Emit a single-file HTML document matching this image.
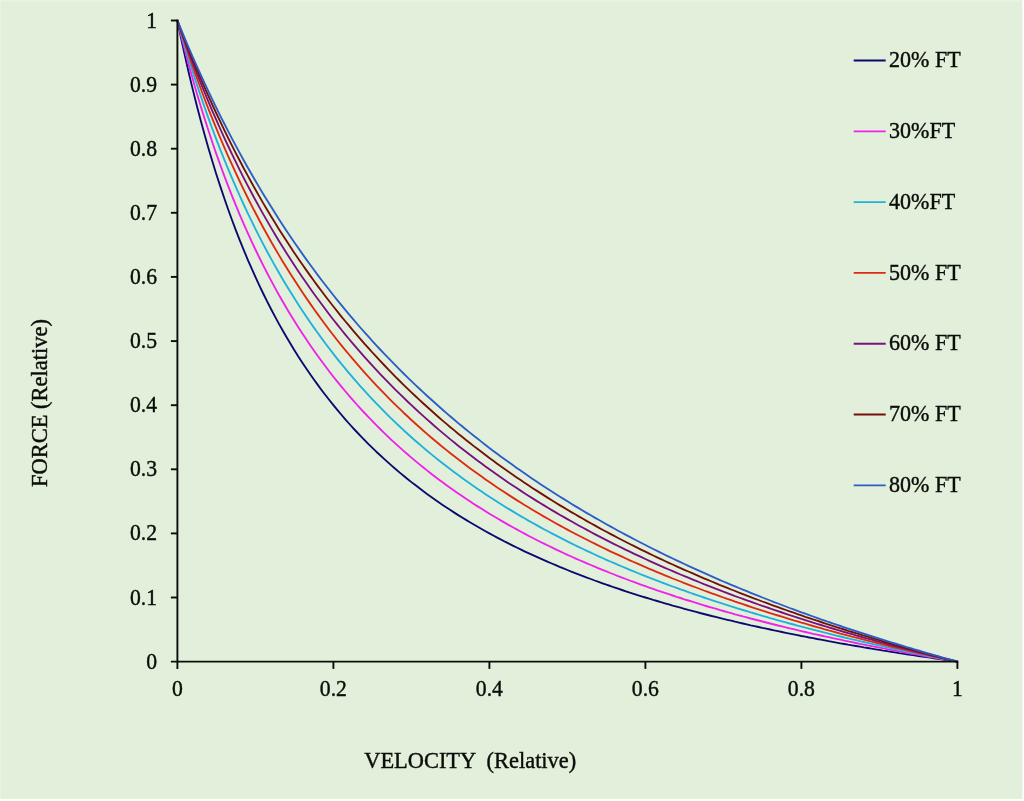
<!DOCTYPE html>
<html><head><meta charset="utf-8"><title>Force-Velocity</title>
<style>
html,body{margin:0;padding:0;background:#e2efda;overflow:hidden}
svg{display:block}
text{font-family:"Liberation Serif","Times New Roman",serif;font-size:22.6px;fill:#0a0d09;stroke:#0a0d09;stroke-width:0.4px}
</style></head><body>
<svg width="1024" height="801" viewBox="0 0 1024 801">
<rect x="0" y="0" width="1024" height="801" fill="#e2efda"/>

<rect x="0" y="0" width="1024" height="1.3" fill="#e9f4e1"/>
<rect x="0" y="0" width="0.8" height="801" fill="#e9f4e1"/>
<rect x="1020" y="0" width="2.3" height="801" fill="#e4ecdf"/>
<rect x="1022.3" y="0" width="1.7" height="801" fill="#fcfefa"/>
<rect x="0" y="799" width="1024" height="2" fill="#fcfefa"/>
<polyline points="177.4,20.5 181.3,39.3 185.2,57.1 189.1,74.2 193.0,90.4 196.9,106.0 200.8,120.8 204.7,135.1 208.6,148.7 212.5,161.8 216.4,174.4 220.3,186.4 224.2,198.0 228.1,209.2 232.0,220.0 235.9,230.3 239.8,240.3 243.7,249.9 247.6,259.3 251.5,268.2 255.4,276.9 259.3,285.3 263.2,293.5 267.1,301.4 271.0,309.0 274.9,316.4 278.8,323.6 282.7,330.5 286.6,337.3 290.5,343.8 294.4,350.2 298.3,356.4 302.2,362.4 306.1,368.3 310.0,374.0 313.9,379.5 317.8,384.9 321.7,390.2 325.6,395.3 329.5,400.3 333.4,405.2 337.3,409.9 341.2,414.5 345.1,419.1 349.0,423.5 352.9,427.8 356.8,432.0 360.7,436.1 364.6,440.1 368.5,444.1 372.4,447.9 376.3,451.7 380.2,455.3 384.1,458.9 388.0,462.4 391.9,465.9 395.8,469.3 399.7,472.6 403.6,475.8 407.5,479.0 411.4,482.1 415.3,485.1 419.2,488.1 423.1,491.1 427.0,493.9 430.9,496.7 434.8,499.5 438.7,502.2 442.6,504.9 446.5,507.5 450.4,510.1 454.3,512.6 458.2,515.1 462.1,517.5 466.0,519.9 469.9,522.2 473.8,524.5 477.7,526.8 481.6,529.0 485.5,531.2 489.4,533.4 493.3,535.5 497.2,537.6 501.1,539.6 505.0,541.7 508.9,543.6 512.8,545.6 516.7,547.5 520.6,549.4 524.5,551.3 528.4,553.1 532.3,554.9 536.2,556.7 540.1,558.4 544.0,560.2 547.9,561.9 551.8,563.5 555.7,565.2 559.6,566.8 563.5,568.4 567.4,570.0 571.3,571.6 575.2,573.1 579.1,574.6 583.0,576.1 586.9,577.6 590.8,579.0 594.7,580.5 598.6,581.9 602.5,583.3 606.4,584.7 610.3,586.0 614.2,587.4 618.1,588.7 622.0,590.0 625.9,591.3 629.8,592.6 633.7,593.8 637.6,595.1 641.5,596.3 645.4,597.5 649.3,598.7 653.2,599.9 657.1,601.0 661.0,602.2 664.9,603.3 668.8,604.4 672.7,605.6 676.6,606.6 680.5,607.7 684.4,608.8 688.3,609.9 692.2,610.9 696.1,611.9 700.0,613.0 703.9,614.0 707.8,615.0 711.7,616.0 715.6,616.9 719.5,617.9 723.4,618.9 727.3,619.8 731.2,620.7 735.1,621.7 739.0,622.6 742.9,623.5 746.8,624.4 750.7,625.3 754.6,626.1 758.5,627.0 762.4,627.9 766.3,628.7 770.2,629.5 774.1,630.4 778.0,631.2 781.9,632.0 785.8,632.8 789.7,633.6 793.6,634.4 797.5,635.2 801.4,636.0 805.3,636.7 809.2,637.5 813.1,638.2 817.0,639.0 820.9,639.7 824.8,640.4 828.7,641.2 832.6,641.9 836.5,642.6 840.4,643.3 844.3,644.0 848.2,644.7 852.1,645.3 856.0,646.0 859.9,646.7 863.8,647.4 867.7,648.0 871.6,648.7 875.5,649.3 879.4,649.9 883.3,650.6 887.2,651.2 891.1,651.8 895.0,652.4 898.9,653.1 902.8,653.7 906.7,654.3 910.6,654.9 914.5,655.4 918.4,656.0 922.3,656.6 926.2,657.2 930.1,657.7 934.0,658.3 937.9,658.9 941.8,659.4 945.7,660.0 949.6,660.5 953.5,661.1 957.4,661.6" fill="none" stroke="#0c0870" stroke-width="1.85" stroke-linejoin="round"/>
<polyline points="177.4,20.5 181.3,36.2 185.2,51.3 189.1,65.9 193.0,79.9 196.9,93.4 200.8,106.4 204.7,118.9 208.6,131.0 212.5,142.7 216.4,154.1 220.3,165.0 224.2,175.6 228.1,185.9 232.0,195.8 235.9,205.4 239.8,214.8 243.7,223.8 247.6,232.6 251.5,241.2 255.4,249.5 259.3,257.5 263.2,265.4 267.1,273.0 271.0,280.4 274.9,287.6 278.8,294.7 282.7,301.5 286.6,308.2 290.5,314.7 294.4,321.0 298.3,327.2 302.2,333.2 306.1,339.1 310.0,344.9 313.9,350.5 317.8,356.0 321.7,361.3 325.6,366.5 329.5,371.7 333.4,376.7 337.3,381.6 341.2,386.3 345.1,391.0 349.0,395.6 352.9,400.1 356.8,404.5 360.7,408.8 364.6,413.0 368.5,417.1 372.4,421.2 376.3,425.2 380.2,429.0 384.1,432.9 388.0,436.6 391.9,440.3 395.8,443.9 399.7,447.4 403.6,450.9 407.5,454.3 411.4,457.6 415.3,460.9 419.2,464.1 423.1,467.3 427.0,470.4 430.9,473.5 434.8,476.5 438.7,479.4 442.6,482.3 446.5,485.2 450.4,488.0 454.3,490.7 458.2,493.4 462.1,496.1 466.0,498.7 469.9,501.3 473.8,503.9 477.7,506.4 481.6,508.8 485.5,511.3 489.4,513.7 493.3,516.0 497.2,518.3 501.1,520.6 505.0,522.9 508.9,525.1 512.8,527.3 516.7,529.4 520.6,531.5 524.5,533.6 528.4,535.7 532.3,537.7 536.2,539.7 540.1,541.7 544.0,543.6 547.9,545.5 551.8,547.4 555.7,549.3 559.6,551.1 563.5,553.0 567.4,554.8 571.3,556.5 575.2,558.3 579.1,560.0 583.0,561.7 586.9,563.4 590.8,565.0 594.7,566.7 598.6,568.3 602.5,569.9 606.4,571.4 610.3,573.0 614.2,574.5 618.1,576.1 622.0,577.6 625.9,579.0 629.8,580.5 633.7,581.9 637.6,583.4 641.5,584.8 645.4,586.2 649.3,587.6 653.2,588.9 657.1,590.3 661.0,591.6 664.9,592.9 668.8,594.2 672.7,595.5 676.6,596.8 680.5,598.0 684.4,599.3 688.3,600.5 692.2,601.7 696.1,602.9 700.0,604.1 703.9,605.3 707.8,606.5 711.7,607.6 715.6,608.7 719.5,609.9 723.4,611.0 727.3,612.1 731.2,613.2 735.1,614.3 739.0,615.3 742.9,616.4 746.8,617.4 750.7,618.5 754.6,619.5 758.5,620.5 762.4,621.5 766.3,622.5 770.2,623.5 774.1,624.5 778.0,625.5 781.9,626.4 785.8,627.4 789.7,628.3 793.6,629.2 797.5,630.2 801.4,631.1 805.3,632.0 809.2,632.9 813.1,633.8 817.0,634.6 820.9,635.5 824.8,636.4 828.7,637.2 832.6,638.1 836.5,638.9 840.4,639.7 844.3,640.6 848.2,641.4 852.1,642.2 856.0,643.0 859.9,643.8 863.8,644.6 867.7,645.4 871.6,646.1 875.5,646.9 879.4,647.7 883.3,648.4 887.2,649.2 891.1,649.9 895.0,650.6 898.9,651.4 902.8,652.1 906.7,652.8 910.6,653.5 914.5,654.2 918.4,654.9 922.3,655.6 926.2,656.3 930.1,657.0 934.0,657.7 937.9,658.3 941.8,659.0 945.7,659.7 949.6,660.3 953.5,661.0 957.4,661.6" fill="none" stroke="#ee22ea" stroke-width="1.85" stroke-linejoin="round"/>
<polyline points="177.4,20.5 181.3,34.2 185.2,47.4 189.1,60.2 193.0,72.6 196.9,84.6 200.8,96.3 204.7,107.6 208.6,118.6 212.5,129.2 216.4,139.6 220.3,149.6 224.2,159.4 228.1,168.9 232.0,178.2 235.9,187.2 239.8,196.0 243.7,204.5 247.6,212.8 251.5,220.9 255.4,228.9 259.3,236.6 263.2,244.1 267.1,251.5 271.0,258.6 274.9,265.6 278.8,272.5 282.7,279.2 286.6,285.7 290.5,292.1 294.4,298.3 298.3,304.4 302.2,310.4 306.1,316.2 310.0,322.0 313.9,327.6 317.8,333.0 321.7,338.4 325.6,343.7 329.5,348.8 333.4,353.9 337.3,358.8 341.2,363.7 345.1,368.4 349.0,373.1 352.9,377.7 356.8,382.2 360.7,386.6 364.6,390.9 368.5,395.2 372.4,399.3 376.3,403.4 380.2,407.4 384.1,411.4 388.0,415.3 391.9,419.1 395.8,422.8 399.7,426.5 403.6,430.2 407.5,433.7 411.4,437.2 415.3,440.7 419.2,444.0 423.1,447.4 427.0,450.7 430.9,453.9 434.8,457.1 438.7,460.2 442.6,463.3 446.5,466.3 450.4,469.3 454.3,472.2 458.2,475.1 462.1,477.9 466.0,480.8 469.9,483.5 473.8,486.2 477.7,488.9 481.6,491.6 485.5,494.2 489.4,496.7 493.3,499.3 497.2,501.8 501.1,504.2 505.0,506.7 508.9,509.1 512.8,511.4 516.7,513.8 520.6,516.1 524.5,518.3 528.4,520.6 532.3,522.8 536.2,524.9 540.1,527.1 544.0,529.2 547.9,531.3 551.8,533.4 555.7,535.4 559.6,537.4 563.5,539.4 567.4,541.4 571.3,543.3 575.2,545.3 579.1,547.1 583.0,549.0 586.9,550.9 590.8,552.7 594.7,554.5 598.6,556.3 602.5,558.0 606.4,559.8 610.3,561.5 614.2,563.2 618.1,564.9 622.0,566.5 625.9,568.2 629.8,569.8 633.7,571.4 637.6,573.0 641.5,574.6 645.4,576.1 649.3,577.7 653.2,579.2 657.1,580.7 661.0,582.2 664.9,583.6 668.8,585.1 672.7,586.5 676.6,587.9 680.5,589.3 684.4,590.7 688.3,592.1 692.2,593.5 696.1,594.8 700.0,596.2 703.9,597.5 707.8,598.8 711.7,600.1 715.6,601.4 719.5,602.6 723.4,603.9 727.3,605.1 731.2,606.4 735.1,607.6 739.0,608.8 742.9,610.0 746.8,611.2 750.7,612.4 754.6,613.5 758.5,614.7 762.4,615.8 766.3,616.9 770.2,618.1 774.1,619.2 778.0,620.3 781.9,621.3 785.8,622.4 789.7,623.5 793.6,624.5 797.5,625.6 801.4,626.6 805.3,627.7 809.2,628.7 813.1,629.7 817.0,630.7 820.9,631.7 824.8,632.7 828.7,633.6 832.6,634.6 836.5,635.6 840.4,636.5 844.3,637.5 848.2,638.4 852.1,639.3 856.0,640.2 859.9,641.1 863.8,642.0 867.7,642.9 871.6,643.8 875.5,644.7 879.4,645.6 883.3,646.4 887.2,647.3 891.1,648.1 895.0,649.0 898.9,649.8 902.8,650.7 906.7,651.5 910.6,652.3 914.5,653.1 918.4,653.9 922.3,654.7 926.2,655.5 930.1,656.3 934.0,657.1 937.9,657.8 941.8,658.6 945.7,659.4 949.6,660.1 953.5,660.9 957.4,661.6" fill="none" stroke="#20b0dc" stroke-width="1.85" stroke-linejoin="round"/>
<polyline points="177.4,20.5 181.3,32.7 185.2,44.5 189.1,56.1 193.0,67.3 196.9,78.2 200.8,88.8 204.7,99.2 208.6,109.3 212.5,119.1 216.4,128.7 220.3,138.0 224.2,147.2 228.1,156.1 232.0,164.7 235.9,173.2 239.8,181.5 243.7,189.6 247.6,197.5 251.5,205.3 255.4,212.8 259.3,220.2 263.2,227.5 267.1,234.5 271.0,241.5 274.9,248.3 278.8,254.9 282.7,261.4 286.6,267.8 290.5,274.0 294.4,280.1 298.3,286.1 302.2,292.0 306.1,297.8 310.0,303.4 313.9,309.0 317.8,314.4 321.7,319.8 325.6,325.0 329.5,330.2 333.4,335.2 337.3,340.2 341.2,345.1 345.1,349.8 349.0,354.5 352.9,359.2 356.8,363.7 360.7,368.2 364.6,372.6 368.5,376.9 372.4,381.1 376.3,385.3 380.2,389.4 384.1,393.4 388.0,397.4 391.9,401.3 395.8,405.2 399.7,408.9 403.6,412.7 407.5,416.3 411.4,420.0 415.3,423.5 419.2,427.0 423.1,430.5 427.0,433.9 430.9,437.2 434.8,440.5 438.7,443.8 442.6,447.0 446.5,450.1 450.4,453.2 454.3,456.3 458.2,459.3 462.1,462.3 466.0,465.3 469.9,468.2 473.8,471.0 477.7,473.8 481.6,476.6 485.5,479.4 489.4,482.1 493.3,484.8 497.2,487.4 501.1,490.0 505.0,492.6 508.9,495.1 512.8,497.6 516.7,500.1 520.6,502.5 524.5,505.0 528.4,507.3 532.3,509.7 536.2,512.0 540.1,514.3 544.0,516.6 547.9,518.8 551.8,521.0 555.7,523.2 559.6,525.4 563.5,527.5 567.4,529.6 571.3,531.7 575.2,533.8 579.1,535.8 583.0,537.8 586.9,539.8 590.8,541.8 594.7,543.7 598.6,545.6 602.5,547.5 606.4,549.4 610.3,551.3 614.2,553.1 618.1,554.9 622.0,556.7 625.9,558.5 629.8,560.3 633.7,562.0 637.6,563.7 641.5,565.4 645.4,567.1 649.3,568.8 653.2,570.4 657.1,572.1 661.0,573.7 664.9,575.3 668.8,576.9 672.7,578.5 676.6,580.0 680.5,581.5 684.4,583.1 688.3,584.6 692.2,586.1 696.1,587.5 700.0,589.0 703.9,590.5 707.8,591.9 711.7,593.3 715.6,594.7 719.5,596.1 723.4,597.5 727.3,598.9 731.2,600.2 735.1,601.6 739.0,602.9 742.9,604.2 746.8,605.5 750.7,606.8 754.6,608.1 758.5,609.3 762.4,610.6 766.3,611.8 770.2,613.1 774.1,614.3 778.0,615.5 781.9,616.7 785.8,617.9 789.7,619.1 793.6,620.3 797.5,621.4 801.4,622.6 805.3,623.7 809.2,624.8 813.1,626.0 817.0,627.1 820.9,628.2 824.8,629.3 828.7,630.4 832.6,631.4 836.5,632.5 840.4,633.6 844.3,634.6 848.2,635.6 852.1,636.7 856.0,637.7 859.9,638.7 863.8,639.7 867.7,640.7 871.6,641.7 875.5,642.7 879.4,643.6 883.3,644.6 887.2,645.6 891.1,646.5 895.0,647.5 898.9,648.4 902.8,649.3 906.7,650.2 910.6,651.2 914.5,652.1 918.4,653.0 922.3,653.9 926.2,654.7 930.1,655.6 934.0,656.5 937.9,657.4 941.8,658.2 945.7,659.1 949.6,659.9 953.5,660.8 957.4,661.6" fill="none" stroke="#de2a12" stroke-width="1.85" stroke-linejoin="round"/>
<polyline points="177.4,20.5 181.3,31.6 185.2,42.4 189.1,52.9 193.0,63.2 196.9,73.3 200.8,83.1 204.7,92.7 208.6,102.1 212.5,111.3 216.4,120.2 220.3,129.0 224.2,137.6 228.1,146.0 232.0,154.2 235.9,162.2 239.8,170.1 243.7,177.8 247.6,185.4 251.5,192.8 255.4,200.0 259.3,207.1 263.2,214.1 267.1,220.9 271.0,227.6 274.9,234.2 278.8,240.7 282.7,247.0 286.6,253.2 290.5,259.3 294.4,265.3 298.3,271.2 302.2,276.9 306.1,282.6 310.0,288.2 313.9,293.7 317.8,299.0 321.7,304.3 325.6,309.5 329.5,314.7 333.4,319.7 337.3,324.6 341.2,329.5 345.1,334.3 349.0,339.0 352.9,343.6 356.8,348.2 360.7,352.7 364.6,357.1 368.5,361.4 372.4,365.7 376.3,369.9 380.2,374.1 384.1,378.2 388.0,382.2 391.9,386.2 395.8,390.1 399.7,393.9 403.6,397.7 407.5,401.5 411.4,405.2 415.3,408.8 419.2,412.4 423.1,415.9 427.0,419.4 430.9,422.8 434.8,426.2 438.7,429.6 442.6,432.9 446.5,436.1 450.4,439.4 454.3,442.5 458.2,445.7 462.1,448.7 466.0,451.8 469.9,454.8 473.8,457.8 477.7,460.7 481.6,463.6 485.5,466.4 489.4,469.3 493.3,472.1 497.2,474.8 501.1,477.5 505.0,480.2 508.9,482.9 512.8,485.5 516.7,488.1 520.6,490.6 524.5,493.2 528.4,495.7 532.3,498.1 536.2,500.6 540.1,503.0 544.0,505.4 547.9,507.7 551.8,510.1 555.7,512.4 559.6,514.7 563.5,516.9 567.4,519.1 571.3,521.3 575.2,523.5 579.1,525.7 583.0,527.8 586.9,529.9 590.8,532.0 594.7,534.1 598.6,536.1 602.5,538.1 606.4,540.1 610.3,542.1 614.2,544.1 618.1,546.0 622.0,547.9 625.9,549.8 629.8,551.7 633.7,553.6 637.6,555.4 641.5,557.2 645.4,559.0 649.3,560.8 653.2,562.6 657.1,564.3 661.0,566.1 664.9,567.8 668.8,569.5 672.7,571.2 676.6,572.8 680.5,574.5 684.4,576.1 688.3,577.7 692.2,579.3 696.1,580.9 700.0,582.5 703.9,584.1 707.8,585.6 711.7,587.1 715.6,588.7 719.5,590.2 723.4,591.7 727.3,593.1 731.2,594.6 735.1,596.1 739.0,597.5 742.9,598.9 746.8,600.3 750.7,601.7 754.6,603.1 758.5,604.5 762.4,605.9 766.3,607.2 770.2,608.5 774.1,609.9 778.0,611.2 781.9,612.5 785.8,613.8 789.7,615.1 793.6,616.3 797.5,617.6 801.4,618.9 805.3,620.1 809.2,621.3 813.1,622.6 817.0,623.8 820.9,625.0 824.8,626.2 828.7,627.3 832.6,628.5 836.5,629.7 840.4,630.8 844.3,632.0 848.2,633.1 852.1,634.2 856.0,635.4 859.9,636.5 863.8,637.6 867.7,638.7 871.6,639.7 875.5,640.8 879.4,641.9 883.3,642.9 887.2,644.0 891.1,645.0 895.0,646.1 898.9,647.1 902.8,648.1 906.7,649.1 910.6,650.1 914.5,651.1 918.4,652.1 922.3,653.1 926.2,654.1 930.1,655.0 934.0,656.0 937.9,656.9 941.8,657.9 945.7,658.8 949.6,659.8 953.5,660.7 957.4,661.6" fill="none" stroke="#7a107e" stroke-width="1.85" stroke-linejoin="round"/>
<polyline points="177.4,20.5 181.3,30.7 185.2,40.7 189.1,50.5 193.0,60.1 196.9,69.4 200.8,78.6 204.7,87.6 208.6,96.4 212.5,105.0 216.4,113.5 220.3,121.7 224.2,129.9 228.1,137.8 232.0,145.6 235.9,153.3 239.8,160.8 243.7,168.2 247.6,175.4 251.5,182.5 255.4,189.5 259.3,196.4 263.2,203.1 267.1,209.7 271.0,216.2 274.9,222.6 278.8,228.9 282.7,235.0 286.6,241.1 290.5,247.0 294.4,252.9 298.3,258.7 302.2,264.3 306.1,269.9 310.0,275.4 313.9,280.8 317.8,286.1 321.7,291.3 325.6,296.5 329.5,301.5 333.4,306.5 337.3,311.4 341.2,316.3 345.1,321.0 349.0,325.7 352.9,330.4 356.8,334.9 360.7,339.4 364.6,343.8 368.5,348.2 372.4,352.5 376.3,356.7 380.2,360.9 384.1,365.0 388.0,369.1 391.9,373.1 395.8,377.1 399.7,381.0 403.6,384.8 407.5,388.6 411.4,392.3 415.3,396.0 419.2,399.7 423.1,403.3 427.0,406.8 430.9,410.3 434.8,413.8 438.7,417.2 442.6,420.6 446.5,423.9 450.4,427.2 454.3,430.4 458.2,433.7 462.1,436.8 466.0,440.0 469.9,443.0 473.8,446.1 477.7,449.1 481.6,452.1 485.5,455.0 489.4,458.0 493.3,460.8 497.2,463.7 501.1,466.5 505.0,469.3 508.9,472.0 512.8,474.7 516.7,477.4 520.6,480.1 524.5,482.7 528.4,485.3 532.3,487.9 536.2,490.4 540.1,492.9 544.0,495.4 547.9,497.9 551.8,500.3 555.7,502.7 559.6,505.1 563.5,507.4 567.4,509.8 571.3,512.1 575.2,514.3 579.1,516.6 583.0,518.8 586.9,521.1 590.8,523.2 594.7,525.4 598.6,527.6 602.5,529.7 606.4,531.8 610.3,533.9 614.2,535.9 618.1,538.0 622.0,540.0 625.9,542.0 629.8,544.0 633.7,545.9 637.6,547.9 641.5,549.8 645.4,551.7 649.3,553.6 653.2,555.5 657.1,557.3 661.0,559.1 664.9,561.0 668.8,562.8 672.7,564.5 676.6,566.3 680.5,568.1 684.4,569.8 688.3,571.5 692.2,573.2 696.1,574.9 700.0,576.6 703.9,578.3 707.8,579.9 711.7,581.5 715.6,583.1 719.5,584.8 723.4,586.3 727.3,587.9 731.2,589.5 735.1,591.0 739.0,592.6 742.9,594.1 746.8,595.6 750.7,597.1 754.6,598.6 758.5,600.0 762.4,601.5 766.3,602.9 770.2,604.4 774.1,605.8 778.0,607.2 781.9,608.6 785.8,610.0 789.7,611.4 793.6,612.7 797.5,614.1 801.4,615.4 805.3,616.8 809.2,618.1 813.1,619.4 817.0,620.7 820.9,622.0 824.8,623.3 828.7,624.6 832.6,625.8 836.5,627.1 840.4,628.3 844.3,629.5 848.2,630.8 852.1,632.0 856.0,633.2 859.9,634.4 863.8,635.6 867.7,636.7 871.6,637.9 875.5,639.1 879.4,640.2 883.3,641.4 887.2,642.5 891.1,643.6 895.0,644.8 898.9,645.9 902.8,647.0 906.7,648.1 910.6,649.1 914.5,650.2 918.4,651.3 922.3,652.4 926.2,653.4 930.1,654.5 934.0,655.5 937.9,656.5 941.8,657.6 945.7,658.6 949.6,659.6 953.5,660.6 957.4,661.6" fill="none" stroke="#74100a" stroke-width="1.85" stroke-linejoin="round"/>
<polyline points="177.4,20.5 181.3,30.0 185.2,39.4 189.1,48.5 193.0,57.5 196.9,66.3 200.8,74.9 204.7,83.4 208.6,91.7 212.5,99.9 216.4,107.9 220.3,115.8 224.2,123.5 228.1,131.1 232.0,138.6 235.9,145.9 239.8,153.1 243.7,160.2 247.6,167.2 251.5,174.0 255.4,180.8 259.3,187.4 263.2,193.9 267.1,200.3 271.0,206.6 274.9,212.8 278.8,218.9 282.7,224.9 286.6,230.9 290.5,236.7 294.4,242.4 298.3,248.1 302.2,253.6 306.1,259.1 310.0,264.5 313.9,269.8 317.8,275.1 321.7,280.2 325.6,285.3 329.5,290.3 333.4,295.3 337.3,300.1 341.2,304.9 345.1,309.7 349.0,314.3 352.9,318.9 356.8,323.5 360.7,328.0 364.6,332.4 368.5,336.7 372.4,341.1 376.3,345.3 380.2,349.5 384.1,353.6 388.0,357.7 391.9,361.7 395.8,365.7 399.7,369.6 403.6,373.5 407.5,377.3 411.4,381.1 415.3,384.9 419.2,388.5 423.1,392.2 427.0,395.8 430.9,399.3 434.8,402.8 438.7,406.3 442.6,409.7 446.5,413.1 450.4,416.5 454.3,419.8 458.2,423.1 462.1,426.3 466.0,429.5 469.9,432.6 473.8,435.8 477.7,438.8 481.6,441.9 485.5,444.9 489.4,447.9 493.3,450.9 497.2,453.8 501.1,456.7 505.0,459.5 508.9,462.3 512.8,465.1 516.7,467.9 520.6,470.6 524.5,473.3 528.4,476.0 532.3,478.7 536.2,481.3 540.1,483.9 544.0,486.5 547.9,489.0 551.8,491.5 555.7,494.0 559.6,496.5 563.5,498.9 567.4,501.3 571.3,503.7 575.2,506.1 579.1,508.4 583.0,510.8 586.9,513.1 590.8,515.3 594.7,517.6 598.6,519.8 602.5,522.0 606.4,524.2 610.3,526.4 614.2,528.5 618.1,530.7 622.0,532.8 625.9,534.9 629.8,536.9 633.7,539.0 637.6,541.0 641.5,543.0 645.4,545.0 649.3,547.0 653.2,549.0 657.1,550.9 661.0,552.8 664.9,554.8 668.8,556.6 672.7,558.5 676.6,560.4 680.5,562.2 684.4,564.0 688.3,565.9 692.2,567.6 696.1,569.4 700.0,571.2 703.9,572.9 707.8,574.7 711.7,576.4 715.6,578.1 719.5,579.8 723.4,581.5 727.3,583.1 731.2,584.8 735.1,586.4 739.0,588.0 742.9,589.6 746.8,591.2 750.7,592.8 754.6,594.4 758.5,595.9 762.4,597.5 766.3,599.0 770.2,600.5 774.1,602.1 778.0,603.5 781.9,605.0 785.8,606.5 789.7,608.0 793.6,609.4 797.5,610.9 801.4,612.3 805.3,613.7 809.2,615.1 813.1,616.5 817.0,617.9 820.9,619.3 824.8,620.6 828.7,622.0 832.6,623.3 836.5,624.7 840.4,626.0 844.3,627.3 848.2,628.6 852.1,629.9 856.0,631.2 859.9,632.5 863.8,633.7 867.7,635.0 871.6,636.2 875.5,637.5 879.4,638.7 883.3,639.9 887.2,641.1 891.1,642.3 895.0,643.5 898.9,644.7 902.8,645.9 906.7,647.1 910.6,648.2 914.5,649.4 918.4,650.5 922.3,651.7 926.2,652.8 930.1,653.9 934.0,655.1 937.9,656.2 941.8,657.3 945.7,658.4 949.6,659.4 953.5,660.5 957.4,661.6" fill="none" stroke="#2c5cc8" stroke-width="1.85" stroke-linejoin="round"/>
<g stroke="#0a0d09" stroke-width="1.9" fill="none">
<line x1="177.4" y1="19.6" x2="177.4" y2="668.9"/>
<line x1="170.9" y1="661.6" x2="958.3" y2="661.6"/>
<line x1="170.9" y1="597.5" x2="177.4" y2="597.5"/>
<line x1="170.9" y1="533.4" x2="177.4" y2="533.4"/>
<line x1="170.9" y1="469.3" x2="177.4" y2="469.3"/>
<line x1="170.9" y1="405.2" x2="177.4" y2="405.2"/>
<line x1="170.9" y1="341.1" x2="177.4" y2="341.1"/>
<line x1="170.9" y1="276.9" x2="177.4" y2="276.9"/>
<line x1="170.9" y1="212.8" x2="177.4" y2="212.8"/>
<line x1="170.9" y1="148.7" x2="177.4" y2="148.7"/>
<line x1="170.9" y1="84.6" x2="177.4" y2="84.6"/>
<line x1="170.9" y1="20.5" x2="177.4" y2="20.5"/>
<line x1="333.4" y1="661.6" x2="333.4" y2="668.9"/>
<line x1="489.4" y1="661.6" x2="489.4" y2="668.9"/>
<line x1="645.4" y1="661.6" x2="645.4" y2="668.9"/>
<line x1="801.4" y1="661.6" x2="801.4" y2="668.9"/>
<line x1="957.4" y1="661.6" x2="957.4" y2="668.9"/>
</g>
<text transform="translate(157.0,668.6) scale(0.96,1.015)" text-anchor="end">0</text>
<text transform="translate(157.0,604.5) scale(0.96,1.015)" text-anchor="end">0.1</text>
<text transform="translate(157.0,540.4) scale(0.96,1.015)" text-anchor="end">0.2</text>
<text transform="translate(157.0,476.3) scale(0.96,1.015)" text-anchor="end">0.3</text>
<text transform="translate(157.0,412.2) scale(0.96,1.015)" text-anchor="end">0.4</text>
<text transform="translate(157.0,348.1) scale(0.96,1.015)" text-anchor="end">0.5</text>
<text transform="translate(157.0,283.9) scale(0.96,1.015)" text-anchor="end">0.6</text>
<text transform="translate(157.0,219.8) scale(0.96,1.015)" text-anchor="end">0.7</text>
<text transform="translate(157.0,155.7) scale(0.96,1.015)" text-anchor="end">0.8</text>
<text transform="translate(157.0,91.6) scale(0.96,1.015)" text-anchor="end">0.9</text>
<text transform="translate(157.0,27.5) scale(0.96,1.015)" text-anchor="end">1</text>
<text transform="translate(177.4,696.1) scale(0.96,1.015)" text-anchor="middle">0</text>
<text transform="translate(333.4,696.1) scale(0.96,1.015)" text-anchor="middle">0.2</text>
<text transform="translate(489.4,696.1) scale(0.96,1.015)" text-anchor="middle">0.4</text>
<text transform="translate(645.4,696.1) scale(0.96,1.015)" text-anchor="middle">0.6</text>
<text transform="translate(801.4,696.1) scale(0.96,1.015)" text-anchor="middle">0.8</text>
<text transform="translate(957.4,696.1) scale(0.96,1.015)" text-anchor="middle">1</text>
<text transform="translate(470.2,767.6) scale(0.992,1.03)" text-anchor="middle" xml:space="preserve" style="white-space:pre">VELOCITY  (Relative)</text>
<text transform="translate(47.1,403.0) rotate(-90) scale(0.995,1.03)" text-anchor="middle">FORCE (Relative)</text>
<line x1="853.7" y1="60.5" x2="885.7" y2="60.5" stroke="#0c0870" stroke-width="1.85"/>
<text transform="translate(889.0,67.2) scale(0.975,1.015)" text-anchor="start">20% FT</text>
<line x1="853.7" y1="131.3" x2="885.7" y2="131.3" stroke="#ee22ea" stroke-width="1.85"/>
<text transform="translate(889.0,138.0) scale(0.975,1.015)" text-anchor="start">30%FT</text>
<line x1="853.7" y1="202.1" x2="885.7" y2="202.1" stroke="#20b0dc" stroke-width="1.85"/>
<text transform="translate(889.0,208.8) scale(0.975,1.015)" text-anchor="start">40%FT</text>
<line x1="853.7" y1="272.9" x2="885.7" y2="272.9" stroke="#de2a12" stroke-width="1.85"/>
<text transform="translate(889.0,279.6) scale(0.975,1.015)" text-anchor="start">50% FT</text>
<line x1="853.7" y1="343.7" x2="885.7" y2="343.7" stroke="#7a107e" stroke-width="1.85"/>
<text transform="translate(889.0,350.4) scale(0.975,1.015)" text-anchor="start">60% FT</text>
<line x1="853.7" y1="414.5" x2="885.7" y2="414.5" stroke="#74100a" stroke-width="1.85"/>
<text transform="translate(889.0,421.2) scale(0.975,1.015)" text-anchor="start">70% FT</text>
<line x1="853.7" y1="485.3" x2="885.7" y2="485.3" stroke="#2c5cc8" stroke-width="1.85"/>
<text transform="translate(889.0,492.0) scale(0.975,1.015)" text-anchor="start">80% FT</text>
</svg></body></html>
